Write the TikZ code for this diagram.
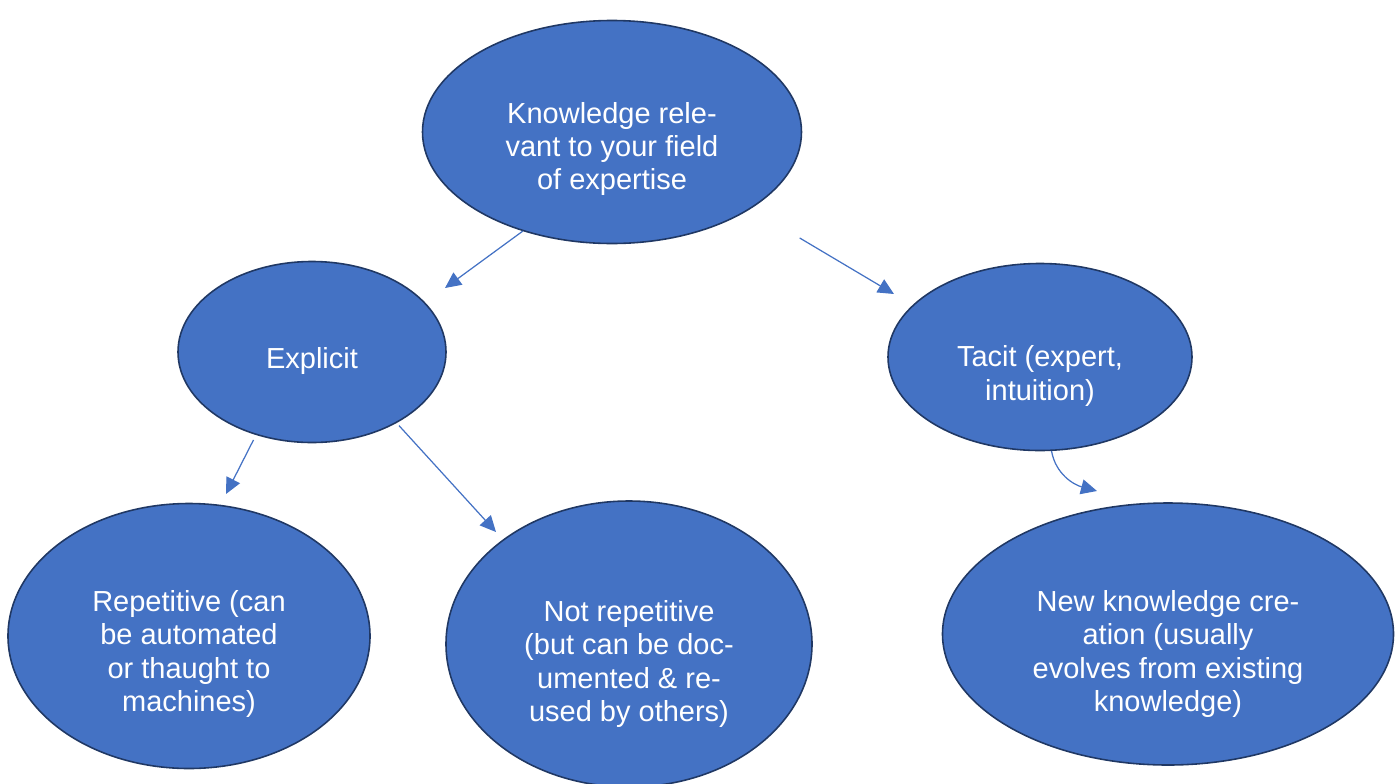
\documentclass[tikz,border=0pt]{standalone}
\usepackage{fontspec}
\setmainfont{Liberation Sans}
\usetikzlibrary{arrows.meta, shapes.geometric}
\definecolor{blobcol}{RGB}{68, 114, 196}
\definecolor{rimcol}{RGB}{32, 56, 100}
\definecolor{linkcol}{RGB}{68, 114, 196}
\tikzset{
  blob/.style     = {ellipse, draw=rimcol, line width=0.9pt, fill=blobcol,
                     inner sep=0pt},
  blobtext/.style = {text=white, align=center, inner sep=0pt,
                     font=\fontsize{16.5pt}{19pt}\selectfont},
  flow/.style     = {-{Triangle[length=3.2mm, width=3mm]}, draw=linkcol,
                     line width=0.7pt},
}

\begin{document}
\begin{tikzpicture}[x=0.2mm, y=-0.2mm]
  \useasboundingbox (0,0) rectangle (1400,783);

  %% ---------------- the ellipses ----------------
  \node[blob, minimum width=75.8mm, minimum height=44.6mm] (know)   at (612,132) {};
  \node[blob, minimum width=53.6mm, minimum height=36.2mm] (expl)   at (312,352) {};
  \node[blob, minimum width=60.8mm, minimum height=37.4mm] (tacit)  at (1040,357) {};
  \node[blob, minimum width=72.4mm, minimum height=53mm]   (rep)    at (189,636) {};
  \node[blob, minimum width=73.2mm, minimum height=57.2mm] (notrep) at (629,644) {};
  \node[blob, minimum width=90.2mm, minimum height=52.4mm] (newk)   at (1168,634) {};

  %% ---------------- their texts (set a little low, as drawn) ----------------
  \node[blobtext] (knowT)   at (612,149)  {Knowledge rele-\\vant to your field\\of expertise};
  \node[blobtext] (explT)   at (312,361)  {Explicit};
  \node[blobtext] (tacitT)  at (1040,376) {Tacit (expert,\\intuition)};
  \node[blobtext] (repT)    at (189,654)  {Repetitive (can\\be automated\\or thaught to\\machines)};
  \node[blobtext] (notrepT) at (629,664)  {Not repetitive\\(but can be doc-\\umented \& re-\\used by others)};
  \node[blobtext] (newkT)   at (1168,654) {New knowledge cre-\\ation (usually\\evolves from existing\\knowledge)};

  %% ---------------- arrow tips ----------------
  \coordinate (t1) at (445,288);
  \coordinate (t2) at (894,294);
  \coordinate (t3) at (226,494);
  \coordinate (t4) at (496,532);
  \coordinate (t5) at (1097,491);

  %% ---------------- edges ----------------
  \draw[flow] (know.228) -- (t1);
  \draw[flow, shorten <=11.4mm] (know.-29) -- (t2);
  \draw[flow, shorten <=1.1mm] (expl.236) -- (t3);
  \draw[flow, shorten <=0.7mm] (expl.-40) -- (t4);
  \draw[flow] (tacit.-83) to[out=-80, in=165] (t5);

\end{tikzpicture}
\end{document}
